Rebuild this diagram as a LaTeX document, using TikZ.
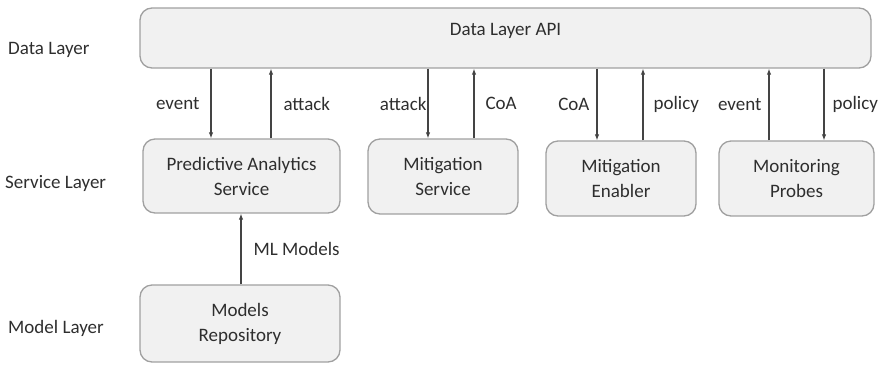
\documentclass[tikz,border=0pt]{standalone}
\usepackage{fontspec}
\setmainfont{Carlito}
\usetikzlibrary{arrows.meta}
\definecolor{boxfill}{HTML}{F1F1F1}
\definecolor{boxline}{HTML}{A0A0A0}
\definecolor{ink}{HTML}{2E2E2E}
\definecolor{wire}{HTML}{444444}
\tikzset{
  layerbox/.style={draw=boxline, fill=boxfill, line width=1.3pt, rounded corners=12pt,
    align=center, text=ink, font=\fontsize{19}{25}\selectfont, inner sep=0pt},
  layername/.style={anchor=west, text=ink, font=\fontsize{19}{25}\selectfont, inner sep=0pt},
  flow/.style={draw=wire, line width=1.1pt, -{Latex[length=6pt,width=4.5pt]}},
  tag/.style={text=ink, font=\fontsize{19}{25}\selectfont, inner sep=0pt},
}
\begin{document}
\begin{tikzpicture}[x=1pt, y=-1pt]
\useasboundingbox (0,0) rectangle (880,365);

% layer captions
\node[layername] (ldata) at (8,50) {Data Layer};
\node[layername] (lserv) at (5,183) {Service Layer};
\node[layername] (lmodel) at (8,328) {Model Layer};

% data layer
\node[layerbox, minimum width=731pt, minimum height=60pt, text height=13pt, text depth=19pt]
  (api) at (505.5,38) {Data Layer API};

% service layer
\node[layerbox, minimum width=197pt, minimum height=74pt] (pa) at (241.5,176) {Predictive Analytics\\Service};
\node[layerbox, minimum width=150pt, minimum height=75pt] (ms) at (443,176.5) {Mitigation\\Service};
\node[layerbox, minimum width=150pt, minimum height=75pt] (me) at (621,178.5) {Mitigation\\Enabler};
\node[layerbox, minimum width=155pt, minimum height=75pt] (mp) at (796.5,178.5) {Monitoring\\Probes};

% model layer
\node[layerbox, minimum width=200pt, minimum height=77pt] (mr) at (240,323.5) {Models\\Repository};

% flows between the layers
\draw[flow] (api.south -| 211,0) -- (211,0 |- pa.north) node[tag, midway, left=11pt] {event};
\draw[flow] (271,0 |- pa.north) -- (api.south -| 271,0) node[tag, midway, right=12pt] {attack};
\draw[flow] (api.south -| 428,0) -- (428,0 |- ms.north) node[tag, midway, left=1pt] {attack};
\draw[flow] (474,0 |- ms.north) -- (api.south -| 474,0) node[tag, midway, right=11pt] {CoA};
\draw[flow] (api.south -| 597,0) -- (597,0 |- me.north) node[tag, midway, left=7pt] {CoA};
\draw[flow] (643,0 |- me.north) -- (api.south -| 643,0) node[tag, midway, right=10pt] {policy};
\draw[flow] (769,0 |- mp.north) -- (api.south -| 769,0) node[tag, midway, left=7pt] {event};
\draw[flow] (api.south -| 824,0) -- (824,0 |- mp.north) node[tag, midway, right=8pt] {policy};
\draw[flow] (mr.north -| 241,0) -- (241,0 |- pa.south) node[tag, midway, right=12pt] {ML Models};
\end{tikzpicture}
\end{document}
